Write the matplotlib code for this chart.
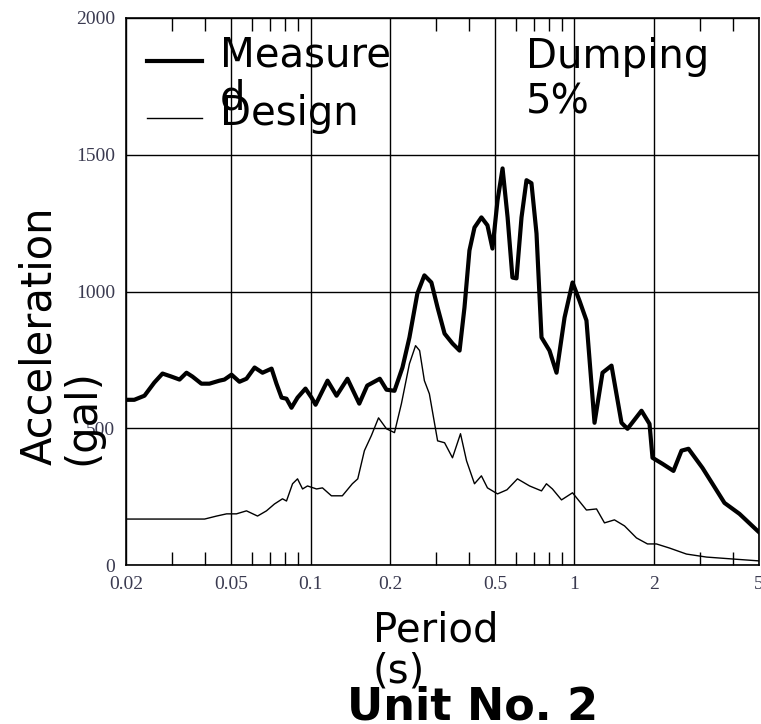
import numpy as np
import matplotlib
matplotlib.use("Agg")
import matplotlib.pyplot as plt
from matplotlib.lines import Line2D
from matplotlib.ticker import FixedLocator, NullFormatter

# response spectrum (period in s, acceleration in gal)
period_measured = [0.020, 0.0215, 0.0235, 0.0256, 0.0275, 0.0297, 0.0319, 0.0339, 0.0357, 0.0386,
                   0.0414, 0.0452, 0.0472, 0.0502, 0.0538, 0.0572, 0.0614, 0.0658, 0.0712, 0.0743,
                   0.0777, 0.0811, 0.0847, 0.0893, 0.0957, 0.1009, 0.1045, 0.116, 0.1255, 0.138,
                   0.153, 0.164, 0.183, 0.194, 0.208, 0.223, 0.237, 0.254, 0.270, 0.287,
                   0.303, 0.322, 0.345, 0.367, 0.383, 0.400, 0.418, 0.444, 0.468, 0.489,
                   0.511, 0.534, 0.558, 0.582, 0.603, 0.630, 0.658, 0.687, 0.718, 0.750,
                   0.804, 0.855, 0.917, 0.983, 1.044, 1.110, 1.191, 1.277, 1.381, 1.507,
                   1.588, 1.794, 1.924, 1.975, 2.154, 2.371, 2.543, 2.703, 3.054, 3.332,
                   3.700, 4.217, 4.934, 5.0]
accel_measured = [604, 604, 619, 667, 700, 689, 678, 703, 689, 663,
                  663, 674, 678, 696, 670, 681, 722, 703, 718, 663,
                  612, 608, 575, 612, 645, 612, 586, 674, 619, 681,
                  590, 656, 681, 641, 637, 722, 832, 993, 1059, 1033,
                  941, 846, 810, 784, 941, 1150, 1234, 1271, 1242, 1157,
                  1333, 1450, 1271, 1051, 1048, 1271, 1407, 1396, 1212, 832,
                  784, 703, 905, 1033, 967, 894, 520, 703, 729, 520,
                  498, 564, 516, 392, 370, 344, 418, 425, 355, 297,
                  227, 187, 125, 120]

period_design = [0.020, 0.0397, 0.0441, 0.0481, 0.0524, 0.0572, 0.0630, 0.0681, 0.0730, 0.0783,
                 0.0811, 0.0855, 0.0893, 0.0933, 0.0974, 0.1054, 0.111, 0.120, 0.132, 0.144,
                 0.151, 0.160, 0.170, 0.181, 0.194, 0.208, 0.221, 0.237, 0.250, 0.259,
                 0.270, 0.282, 0.303, 0.322, 0.345, 0.370, 0.390, 0.418, 0.444, 0.468,
                 0.511, 0.555, 0.608, 0.676, 0.750, 0.783, 0.825, 0.893, 0.983, 1.110,
                 1.212, 1.299, 1.417, 1.547, 1.717, 1.890, 2.044, 2.290, 2.656, 3.162,
                 3.967, 5.0]
accel_design = [168, 168, 179, 187, 187, 198, 179, 198, 223, 242,
                234, 297, 315, 278, 289, 278, 282, 253, 253, 297,
                315, 418, 473, 538, 498, 484, 590, 736, 802, 784,
                674, 626, 454, 447, 392, 480, 381, 297, 326, 282,
                260, 275, 315, 289, 271, 297, 278, 238, 264, 201,
                205, 154, 165, 143, 99, 77, 77, 62, 40, 29,
                22, 15]

x_ticks = [0.02, 0.05, 0.1, 0.2, 0.5, 1, 2, 5]
x_labels = ["0.02", "0.05", "0.1", "0.2", "0.5", "1", "2", "5"]
x_minor = [0.03, 0.04, 0.06, 0.07, 0.08, 0.09, 0.3, 0.4, 0.6, 0.7, 0.8, 0.9, 3, 4]
y_ticks = [0, 500, 1000, 1500, 2000]

W, H = 761, 724
fig = plt.figure(figsize=(W / 100, H / 100), dpi=100)
ax = fig.add_axes([126 / W, 1 - 565 / H, (759 - 126) / W, (565 - 18) / H])

ax.plot(period_measured, accel_measured, color="black", lw=3.0, solid_joinstyle="round")
ax.plot(period_design, accel_design, color="black", lw=1.0)

ax.set_xscale("log")
ax.set_xlim(0.02, 5)
ax.set_ylim(0, 2000)
ax.xaxis.set_major_locator(FixedLocator(x_ticks))
ax.set_xticklabels(x_labels)
ax.xaxis.set_minor_locator(FixedLocator(x_minor))
ax.xaxis.set_minor_formatter(NullFormatter())
ax.set_yticks(y_ticks)
ax.set_yticklabels([str(v) for v in y_ticks])

ax.grid(which="major", color="black", lw=1.0)
for s in ax.spines.values():
    s.set_linewidth(1.2)
ax.tick_params(which="major", length=0, pad=8, labelsize=14, labelcolor="#3a3a50")
ax.tick_params(which="minor", direction="in", top=True, bottom=True, length=9.5, width=1.0)
for lab in ax.get_xticklabels() + ax.get_yticklabels():
    lab.set_family("Liberation Serif")

# legend drawn by hand, same as the source layout
fig.add_artist(Line2D([147 / W, 202 / W], [1 - 61 / H, 1 - 61 / H], color="black", lw=3.0))
fig.add_artist(Line2D([147 / W, 202 / W], [1 - 118 / H, 1 - 118 / H], color="black", lw=1.0))

# multi-line texts: baseline alignment is on the last line
big = 29
fig.text(220 / W, 1 - 110 / H, "Measure\nd", fontsize=big, va="baseline", ha="left", linespacing=1.1)
fig.text(220 / W, 1 - 125 / H, "Design", fontsize=big, va="baseline", ha="left")
fig.text(526 / W, 1 - 113 / H, "Dumping\n5%", fontsize=big, va="baseline", ha="left", linespacing=1.15)

fig.text(18 / W, 1 - 465 / H, "Acceleration\n(gal)", fontsize=30, rotation=90,
         ha="left", va="bottom", multialignment="left", linespacing=1.05)
fig.text(373 / W, 1 - 683 / H, "Period\n(s)", fontsize=big, va="baseline", ha="left", linespacing=1.05)
fig.text(347 / W, 1 - 719 / H, "Unit No. 2", fontsize=32, fontweight="bold", va="baseline", ha="left")

fig.savefig("out.png", dpi=100)
